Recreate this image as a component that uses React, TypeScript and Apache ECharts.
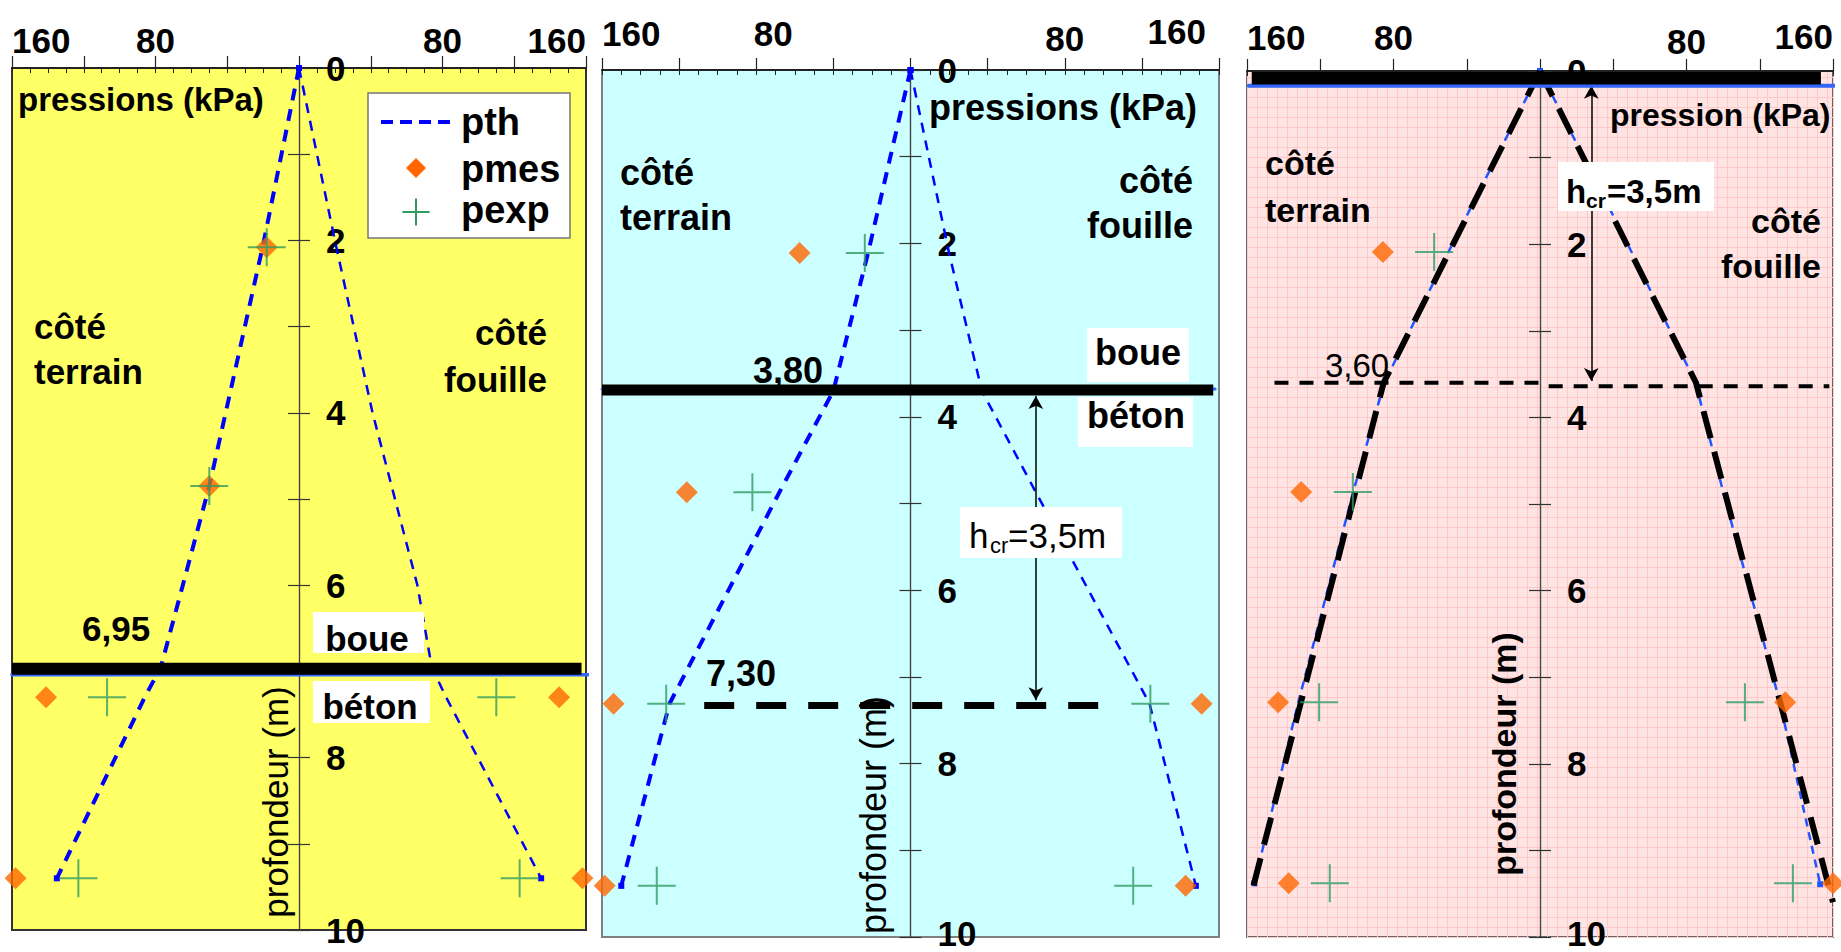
import React, { useEffect, useRef } from "react";
import * as echarts from "echarts";

const FONT = '"Liberation Sans", Arial, Helvetica, sans-serif';

// ---------- shared scales ----------
const pressureMin = -160;
const pressureMax = 160;
const pressureMajorStep = 40;
const pressureMinorStep = 10;
const pressureLabelValues = [80, 160];
const depthMin = 0;
const depthMax = 10;
const depthStep = 1;
const depthLabelValues = [0, 2, 4, 6, 8, 10];

// ---------- panel 1 (yellow) : [pressure kPa (terrain side negative), depth m] ----------
const p1PthTerrain = [[0, 0], [-20, 2.05], [-50, 4.85], [-77, 6.95], [-86, 7.3], [-135, 9.4]];
const p1PthFouille = [[0, 0], [20, 2], [41, 4], [66, 6], [74, 6.95], [82, 7.3], [135, 9.4]];
const p1Pmes = [[-18, 2.08], [-50, 4.85], [-141, 7.3], [145, 7.3], [-158, 9.4], [158, 9.4]];
const p1Pexp = [[-18, 2.08], [-50, 4.85], [-107, 7.3], [110, 7.3], [-123, 9.4], [123, 9.4]];
const p1Interface = [[-160, 6.97], [157.5, 6.97]];
const p1InterfaceBlue = [[-160, 7.04], [165, 7.04]];

// ---------- panel 2 (cyan) ----------
const p2PthTerrain = [[0, 0], [-22, 2.11], [-40, 3.7], [-68, 4.87], [-125, 7.31], [-150, 9.41]];
const p2PthFouille = [[0, 0], [20, 2.11], [37, 3.7], [65, 4.87], [124, 7.31], [148, 9.41]];
const p2Pmes = [[-57.5, 2.11], [-116, 4.87], [-154, 7.31], [151, 7.31], [-158.6, 9.41], [142.7, 9.41]];
const p2Pexp = [[-23.7, 2.11], [-82, 4.87], [-126.7, 7.31], [124.4, 7.31], [-131.6, 9.41], [115.5, 9.41]];
const p2Interface = [[-160, 3.69], [157, 3.69]];
const p2InterfaceBlue = [[-160, 3.68], [158, 3.68]];
const p2Critical = [[-107, 7.33], [99, 7.33]];
const p2HcrArrow = [[65, 3.76], [65, 7.27]];

// ---------- panel 3 (pink) ----------
const p3PthTerrain = [[0, 0], [-50, 2.09], [-85, 3.6], [-102, 4.86], [-132, 7.29], [-156, 9.38]];
const p3PthFouille = [[0, 0], [50, 2.09], [85, 3.6], [100, 4.86], [131, 7.29], [153, 9.39]];
const p3FitTerrain = [[0, 0], [-85.4, 3.6], [-157, 9.45]];
const p3FitFouille = [[0, 0], [85.2, 3.6], [160, 9.6]];
const p3Pmes = [[-85.8, 2.09], [-130.4, 4.86], [-143, 7.29], [133.9, 7.29], [-137.2, 9.38], [160, 9.38]];
const p3Pexp = [[-57.8, 2.09], [-102.2, 4.86], [-120.6, 7.29], [111.9, 7.29], [-114.8, 9.38], [138.1, 9.38]];
const p3Top = [[-157.4, 0.085], [153.4, 0.085]];
const p3TopBlue = [[-159, 0.17], [162.8, 0.17]];
const p3Critical = [[-145, 3.6], [0, 3.6], [4, 3.64], [158, 3.64]];
const p3HcrArrow = [[28, 0.17], [28, 3.58]];

// ---------- layout (pixels) ----------
const PANELS = [
  { left: 12, top: 68, width: 574, height: 862, bg: "#FFFF66", border: "#333333", xMargin: 10, lastLift: 0,
    shift: { L160: [0, 0], L80: [0, 0], R80: [0, 0], R160: [0, 0] } as Record<string, number[]> },
  { left: 602, top: 70, width: 617, height: 867, bg: "#CCFFFF", border: "#808080", xMargin: 14, lastLift: 8,
    shift: { L160: [0, 10], L80: [17, 10], R80: [0, 0], R160: [-13, 14] } as Record<string, number[]> },
  { left: 1247, top: 71, width: 586, height: 866, bg: "#FFE4E4", border: "#666666", xMargin: 12, lastLift: 8,
    shift: { L160: [0, 7], L80: [0, 7], R80: [0, 0], R160: [0, 9] } as Record<string, number[]> },
];

const BLUE = "#0000FF";
const ORANGE = "#FF6600";
const GREEN = "#2F9B62";
const PLUS = "path://M0,-10L0,10M-10,0L10,0";

function buildOption() {
  const grids: any[] = [];
  const xAxes: any[] = [];
  const yAxes: any[] = [];
  const majorX: number[] = [];
  const mainY: number[] = [];

  PANELS.forEach((p, i) => {
    grids.push({
      left: p.left, top: p.top, width: p.width, height: p.height,
      show: true, backgroundColor: p.bg, borderColor: p.border, borderWidth: 2,
      containLabel: false, outerBoundsMode: "none",
    });
    const rich: any = {};
    ["L160", "L80", "R80", "R160"].forEach((k) => {
      const [dx, dy] = p.shift[k];
      let padL = 0, padR = 0;
      if (k === "L160") padL = Math.max(dx, 0);
      else if (k === "R160") padR = Math.max(-dx, 0);
      else if (dx > 0) padL = 2 * dx;
      else padR = -2 * dx;
      rich[k] = { fontSize: 35, fontWeight: "bold", fontFamily: FONT, color: "#000", lineHeight: 36, padding: [0, padR, dy, padL] };
    });
    majorX.push(xAxes.length);
    xAxes.push({
      type: "value", gridIndex: i, position: "top", min: pressureMin, max: pressureMax, interval: pressureMajorStep,
      axisLine: { show: true, onZero: false, lineStyle: { color: "#222", width: 2 } },
      axisTick: { show: true, length: 12, lineStyle: { color: "#222", width: 1.2 } },
      splitLine: { show: false },
      axisLabel: {
        show: true, margin: p.xMargin, rich, showMinLabel: true, showMaxLabel: true,
        alignMinLabel: "left", alignMaxLabel: "right",
        formatter: (v: number) => {
          const a = Math.abs(v);
          if (!pressureLabelValues.includes(a)) return "";
          return `{${(v < 0 ? "L" : "R") + a}|${a}}`;
        },
      },
    });
    xAxes.push({
      type: "value", gridIndex: i, position: "top", min: pressureMin, max: pressureMax, interval: pressureMinorStep,
      axisLine: { show: false, onZero: false },
      axisTick: { show: true, inside: true, length: 5, lineStyle: { color: "#222", width: 1 } },
      axisLabel: { show: false }, splitLine: { show: false },
    });
    // depth axis sits at pressure = 0, i.e. the middle of the symmetric pressure range
    const toCentre = -p.width / 2;
    const depthRich = {
      d: { fontSize: 35, fontWeight: "bold", fontFamily: FONT, color: "#000", lineHeight: 36 },
      e: { fontSize: 35, fontWeight: "bold", fontFamily: FONT, color: "#000", lineHeight: 34, padding: [0, 0, p.lastLift, 0] },
    };
    mainY.push(yAxes.length);
    yAxes.push({
      type: "value", gridIndex: i, position: "left", offset: toCentre, inverse: true,
      min: depthMin, max: depthMax, interval: depthStep,
      axisLine: { show: true, onZero: false, lineStyle: { color: "#444", width: 1.2 } },
      axisTick: { show: true, length: 11, lineStyle: { color: "#333", width: 1.2 } },
      axisLabel: { show: false }, splitLine: { show: false },
    });
    yAxes.push({
      type: "value", gridIndex: i, position: "right", offset: toCentre, inverse: true,
      min: depthMin, max: depthMax, interval: depthStep,
      axisLine: { show: true, onZero: false, lineStyle: { color: "#444", width: 1.2 } },
      axisTick: { show: true, length: 11, lineStyle: { color: "#333", width: 1.2 } },
      axisLabel: {
        show: true, margin: 27, rich: depthRich,
        formatter: (v: number) =>
          depthLabelValues.includes(v) ? `{${v === depthMax ? "e" : "d"}|${v}}` : "",
      },
      splitLine: { show: false },
    });
  });

  // fine pattern of pink panel
  xAxes.push({
    type: "value", gridIndex: 2, position: "bottom", min: 0, max: 58.6, interval: 1,
    axisLine: { show: false, onZero: false }, axisTick: { show: false }, axisLabel: { show: false },
    splitLine: { show: true, lineStyle: { color: "#FFC9C9", width: 1 } },
  });
  yAxes.push({
    type: "value", gridIndex: 2, position: "left", min: 0, max: 86.6, interval: 1,
    axisLine: { show: false, onZero: false }, axisTick: { show: false }, axisLabel: { show: false },
    splitLine: { show: true, lineStyle: { color: "#FFC9C9", width: 1 } },
  });

  const ax = (i: number) => ({ xAxisIndex: majorX[i], yAxisIndex: mainY[i] });
  const pth = (i: number, data: number[][], width: number, color: string, dash: number[]) => ({
    type: "line", name: "pth", data, ...ax(i), silent: true, z: 2,
    symbol: "rect", showSymbol: true, showAllSymbol: true,
    symbolSize: (_v: any, prm: any) => (prm.dataIndex === 0 || prm.dataIndex === data.length - 1 ? 6 : 0),
    itemStyle: { color }, lineStyle: { color, width, type: dash },
  });
  const pmes = (i: number, data: number[][]) => ({
    type: "scatter", name: "pmes", data, ...ax(i), silent: true, z: 4,
    symbol: "diamond", symbolSize: 22, itemStyle: { color: ORANGE },
  });
  const pexp = (i: number, data: number[][]) => ({
    type: "scatter", name: "pexp", data, ...ax(i), silent: true, z: 4,
    symbol: PLUS, symbolSize: 38, itemStyle: { color: "transparent", borderColor: GREEN, borderWidth: 2 },
  });
  const plain = (i: number, name: string, data: number[][], lineStyle: any, z: number, extra: any = {}) => ({
    type: "line", name, data, ...ax(i), silent: true, z, symbol: "none", lineStyle, ...extra,
  });
  const arrow = (data: number[][], width: number) => ({
    silent: true, symbol: ["arrow", "arrow"], symbolSize: [11, 13], label: { show: false },
    lineStyle: { color: "#000", width, type: "solid" },
    data: [[{ coord: data[0] }, { coord: data[1] }]],
  });

  const series: any[] = [
    // panel 1
    pth(0, p1PthTerrain, 4, BLUE, [12, 9]),
    pth(0, p1PthFouille, 2.5, BLUE, [10, 8]),
    pmes(0, p1Pmes),
    pexp(0, p1Pexp),
    plain(0, "interface-blue", p1InterfaceBlue, { color: "#3366FF", width: 3.5, cap: "round" }, 5, { clip: false }),
    plain(0, "boue/béton", p1Interface, { color: "#000", width: 12, cap: "butt" }, 6),
    // panel 2
    pth(1, p2PthTerrain, 4, BLUE, [12, 9]),
    pth(1, p2PthFouille, 2.5, BLUE, [10, 8]),
    pmes(1, p2Pmes),
    pexp(1, p2Pexp),
    plain(1, "interface-blue", p2InterfaceBlue, { color: "#3366FF", width: 3, cap: "round" }, 5, { clip: false }),
    plain(1, "boue/béton", p2Interface, { color: "#000", width: 11, cap: "butt" }, 6, { markLine: arrow(p2HcrArrow, 1.5) }),
    plain(1, "hcr", p2Critical, { color: "#000", width: 7, type: [30, 22], cap: "butt" }, 6),
    // panel 3
    pth(2, p3PthTerrain, 2.5, "#2255FF", [8, 6]),
    pth(2, p3PthFouille, 2.5, "#2255FF", [8, 6]),
    plain(2, "fit", p3FitTerrain, { color: "#000", width: 6, type: [28, 14], cap: "butt" }, 3),
    plain(2, "fit", p3FitFouille, { color: "#000", width: 6, type: [28, 14], cap: "butt" }, 3),
    pmes(2, p3Pmes),
    pexp(2, p3Pexp),
    plain(2, "hcr", p3Critical, { color: "#000", width: 4, type: [14, 11], cap: "butt" }, 5),
    plain(2, "top-blue", p3TopBlue, { color: "#3366FF", width: 4, cap: "round" }, 5, { clip: false }),
    plain(2, "top", p3Top, { color: "#000", width: 12.5, cap: "butt" }, 6, { markLine: arrow(p3HcrArrow, 1.5) }),
  ];

  const T = (x: number, y: number, text: string, size: number, bold = true, align = "left", extra: any = {}) => ({
    type: "text", x, y, z: 100,
    style: {
      text, fontSize: size, fontWeight: bold ? "bold" : "normal", fontFamily: FONT, fill: "#000",
      align, verticalAlign: "middle", textAlign: align, textVerticalAlign: "middle", ...extra,
    },
  });
  const box = (x: number, y: number, w: number, h: number, stroke = "none") => ({
    type: "rect", z: 99, shape: { x, y, width: w, height: h }, style: { fill: "#FFFFFF", stroke, lineWidth: 1.5 },
  });
  const V = (x: number, y: number, text: string, size: number, bold: boolean) => ({
    type: "text", x, y, z: 100, rotation: Math.PI / 2,
    style: {
      text, fontSize: size, fontWeight: bold ? "bold" : "normal", fontFamily: FONT, fill: "#000",
      align: "center", verticalAlign: "middle", textAlign: "center", textVerticalAlign: "middle",
    },
  });

  const elements: any[] = [
    // panel 1
    T(18, 99, "pressions (kPa)", 33),
    box(368, 93, 202, 145, "#777"),
    { type: "line", z: 100, shape: { x1: 381, y1: 122, x2: 452, y2: 122 }, style: { stroke: BLUE, lineWidth: 4, lineDash: [12, 7] } },
    { type: "polygon", z: 100, shape: { points: [[416, 158], [426, 168], [416, 178], [406, 168]] }, style: { fill: ORANGE } },
    { type: "line", z: 100, shape: { x1: 402.5, y1: 212, x2: 429.5, y2: 212 }, style: { stroke: GREEN, lineWidth: 2 } },
    { type: "line", z: 100, shape: { x1: 416, y1: 198.5, x2: 416, y2: 225.5 }, style: { stroke: GREEN, lineWidth: 2 } },
    T(461, 122, "pth", 38),
    T(461, 169, "pmes", 38),
    T(461, 210, "pexp", 38),
    T(34, 348.5, "côté\nterrain", 35, true, "left", { lineHeight: 45 }),
    T(547, 356, "côté\nfouille", 35, true, "right", { lineHeight: 47 }),
    T(82, 628, "6,95", 35),
    box(313, 612, 111, 41),
    T(367, 638, "boue", 35, true, "center"),
    box(313, 681, 117, 42),
    T(370, 706, "béton", 35, true, "center"),
    V(275, 802, "profondeur (m)", 35, false),
    // panel 2
    T(929, 107, "pressions (kPa)", 36),
    T(620, 195, "côté\nterrain", 36, true, "left", { lineHeight: 45 }),
    T(1193, 203, "côté\nfouille", 36, true, "right", { lineHeight: 45 }),
    T(753, 370, "3,80", 36),
    box(1087, 328, 102, 54),
    T(1138, 352, "boue", 36, true, "center"),
    box(1078, 397, 115, 50),
    T(1136, 415, "béton", 36, true, "center"),
    box(960, 507, 162, 51),
    T(969, 535, "h", 35, false),
    T(990, 545, "cr", 22, false),
    T(1008, 535, "=3,5m", 35, false),
    T(706, 673, "7,30", 36),
    V(873, 815, "profondeur (m)", 36, false),
    // panel 3
    T(1610, 115, "pression (kPa)", 32),
    T(1265, 186.5, "côté\nterrain", 34, true, "left", { lineHeight: 47 }),
    T(1821, 243.5, "côté\nfouille", 34, true, "right", { lineHeight: 45 }),
    box(1558, 162, 156, 49),
    T(1566, 191, "h", 33),
    T(1586, 200, "cr", 21),
    T(1607, 191, "=3,5m", 33),
    T(1325, 365.5, "3,60", 33, false),
    V(1504, 754, "profondeur (m)", 34, true),
  ];

  return {
    animation: false,
    backgroundColor: "#FFFFFF",
    grid: grids,
    xAxis: xAxes,
    yAxis: yAxes,
    series,
    graphic: { elements },
  };
}

export default function App() {
  const ref = useRef<HTMLDivElement>(null);
  useEffect(() => {
    if (!ref.current) return;
    const chart = echarts.init(ref.current, undefined, { renderer: "svg" });
    chart.setOption(buildOption() as any);
    return () => chart.dispose();
  }, []);
  return (
    <div
      ref={ref}
      style={{ position: "absolute", left: 0, top: 0, width: 1841, height: 952, background: "#fff" }}
    />
  );
}
